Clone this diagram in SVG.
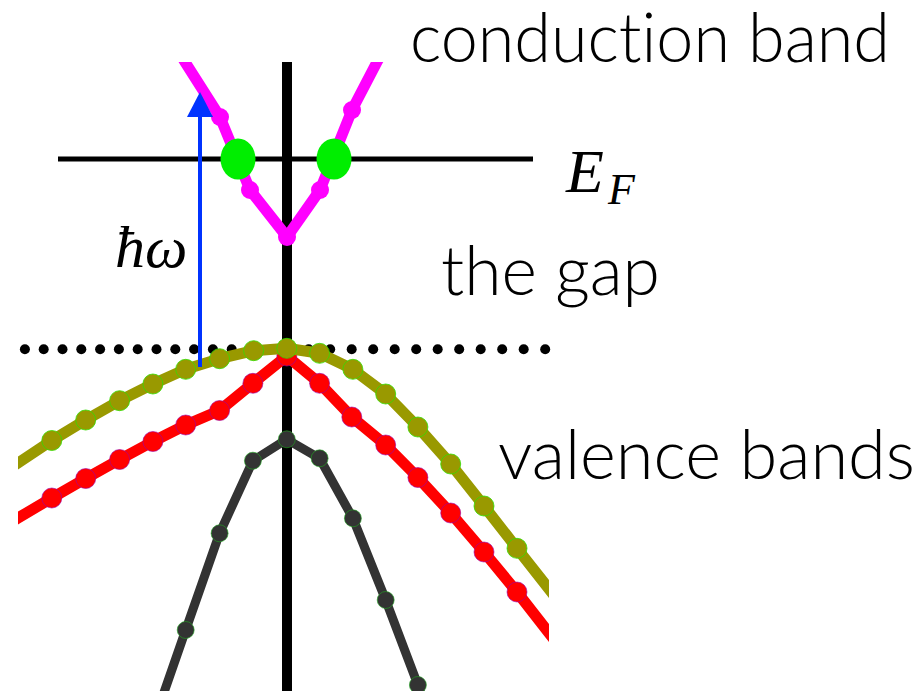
<svg xmlns="http://www.w3.org/2000/svg" width="924" height="691" viewBox="0 0 924 691">
<style>
.lbl{font-family:Lato,"Liberation Sans",Arial,sans-serif;font-weight:300;font-size:68px;fill:#000;font-variant-ligatures:none}
.math{font-family:"Liberation Serif","Times New Roman",serif;font-style:italic;font-weight:normal;fill:#000}
.band{fill:none;stroke-linejoin:round}
.olive{stroke:#999900;stroke-width:11}
.oliveDot{fill:#999900;stroke:#33dd00;stroke-width:0.8}
.red{stroke:#ff0000;stroke-width:11}
.redDot{fill:#ff0000;stroke:#9900aa;stroke-width:0.6}
.dark{stroke:#333333;stroke-width:9}
.darkDot{fill:#333333;stroke:#22aa22;stroke-width:0.6}
.mag{stroke:#ff00ff;stroke-width:11}
.magDot{fill:#ff00ff}
.dot{fill:#000}
</style>
<defs>
<clipPath id="plot"><rect x="18" y="62" width="531" height="629"/></clipPath>
</defs>
<rect width="924" height="691" fill="#fff"/>

<g id="gap-edge-dotted">
<g class="dot">
<circle cx="24.9" cy="349.3" r="5"/><circle cx="43.7" cy="349.3" r="5"/><circle cx="62.5" cy="349.3" r="5"/><circle cx="81.3" cy="349.3" r="5"/><circle cx="100.1" cy="349.3" r="5"/><circle cx="118.9" cy="349.3" r="5"/><circle cx="137.7" cy="349.3" r="5"/><circle cx="156.5" cy="349.3" r="5"/><circle cx="175.3" cy="349.3" r="5"/><circle cx="194.1" cy="349.3" r="5"/><circle cx="212.9" cy="349.3" r="5"/><circle cx="231.7" cy="349.3" r="5"/>
<circle cx="308.7" cy="349.3" r="5"/><circle cx="330.2" cy="349.3" r="5"/><circle cx="351.7" cy="349.3" r="5"/><circle cx="373.2" cy="349.3" r="5"/><circle cx="394.7" cy="349.3" r="5"/><circle cx="416.2" cy="349.3" r="5"/><circle cx="437.7" cy="349.3" r="5"/><circle cx="459.2" cy="349.3" r="5"/><circle cx="480.7" cy="349.3" r="5"/><circle cx="502.2" cy="349.3" r="5"/><circle cx="523.7" cy="349.3" r="5"/><circle cx="545.2" cy="349.3" r="5"/>
</g>
</g>

<g id="k-axis">
<line x1="287" y1="62" x2="287" y2="691" stroke="#000" stroke-width="10"/>
</g>

<g id="fermi-level">
<line x1="58" y1="159" x2="533" y2="159" stroke="#000" stroke-width="5"/>
</g>

<g id="bands" clip-path="url(#plot)">
<g id="band-dark">
<polyline class="band dark" points="152,727 185.7,630 219.6,533.3 252.9,460.7 286.8,439.3 319.6,458.3 352.9,518.3 385.7,600 417.9,685 450,775"/>
<g class="darkDot">
<circle cx="185.7" cy="630" r="8.5"/><circle cx="219.6" cy="533.3" r="8.5"/><circle cx="252.9" cy="460.7" r="8.5"/><circle cx="286.8" cy="439.3" r="8.5"/><circle cx="319.6" cy="458.3" r="8.5"/><circle cx="352.9" cy="518.3" r="8.5"/><circle cx="385.7" cy="600" r="8.5"/><circle cx="417.9" cy="685" r="8.5"/>
</g>
</g>
<g id="band-red">
<polyline class="band red" points="-15,538 18,518 51.8,498 85.7,478.5 119.6,459.5 152.9,441.5 185.7,425 219.6,410.5 252.9,383.3 286.8,356 319.6,383.3 351.8,417 385.7,445 417.9,477.5 450.7,513 484,552 517,592 549,633 580,674"/>
<g class="redDot">
<circle cx="51.8" cy="498" r="10"/><circle cx="85.7" cy="478.5" r="10"/><circle cx="119.6" cy="459.5" r="10"/><circle cx="152.9" cy="441.5" r="10"/><circle cx="185.7" cy="425" r="10"/><circle cx="219.6" cy="410.5" r="10"/><circle cx="252.9" cy="383.3" r="10"/><circle cx="286.8" cy="356" r="10"/><circle cx="319.6" cy="383.3" r="10"/><circle cx="351.8" cy="417" r="10"/><circle cx="385.7" cy="445" r="10"/><circle cx="417.9" cy="477.5" r="10"/><circle cx="450.7" cy="513" r="10"/><circle cx="484" cy="552" r="10"/><circle cx="517" cy="592" r="10"/>
</g>
</g>
<g id="band-olive">
<polyline class="band olive" points="-15,485 18,463 51.8,440.5 85.7,420 119.6,400.7 152.9,384 185.7,369.3 219.6,358.7 253.6,350.7 286.8,348.3 319.6,353.3 352.9,369.3 385.7,394 417.9,427 450.7,464 484,506 517,548.3 549,589 580,630"/>
<g class="oliveDot">
<circle cx="51.8" cy="440.5" r="10"/><circle cx="85.7" cy="420" r="10"/><circle cx="119.6" cy="400.7" r="10"/><circle cx="152.9" cy="384" r="10"/><circle cx="185.7" cy="369.3" r="10"/><circle cx="219.6" cy="358.7" r="10"/><circle cx="253.6" cy="350.7" r="10"/><circle cx="286.8" cy="348.3" r="10"/><circle cx="319.6" cy="353.3" r="10"/><circle cx="352.9" cy="369.3" r="10"/><circle cx="385.7" cy="394" r="10"/><circle cx="417.9" cy="427" r="10"/><circle cx="450.7" cy="464" r="10"/><circle cx="484" cy="506" r="10"/><circle cx="517" cy="548.3" r="10"/>
</g>
</g>
<g id="band-conduction">
<polyline class="band mag" points="170,38 185,62 220,117 250,190 287,237 320,190 352,110 377,62 390,38"/>
<g class="magDot">
<circle cx="220" cy="117" r="9"/><circle cx="250" cy="190" r="9"/><circle cx="287" cy="237" r="9"/><circle cx="320" cy="190" r="9"/><circle cx="352" cy="110" r="9"/>
</g>
</g>
</g>

<g id="fermi-points">
<ellipse cx="238" cy="159" rx="17.5" ry="20.5" fill="#00ee00"/>
<ellipse cx="334" cy="159" rx="17.5" ry="20.5" fill="#00ee00"/>
</g>

<g id="connectors">
<line x1="200" y1="367" x2="200" y2="112" stroke="#0033ff" stroke-width="4"/>
<polygon points="200,92 213,117 187,117" fill="#0033ff"/>
</g>

<g id="labels">
<text class="lbl" x="410" y="62" textLength="480" lengthAdjust="spacingAndGlyphs">conduction band</text>
<text class="lbl" x="441" y="295" textLength="219" lengthAdjust="spacingAndGlyphs">the gap</text>
<text class="lbl" x="498" y="479" textLength="417" lengthAdjust="spacingAndGlyphs">valence bands</text>
<text class="math" x="566" y="192" font-size="62">E</text>
<text class="math" x="608" y="204" font-size="44">F</text>
<text class="math" x="115" y="267" font-size="60">ħω</text>
</g>
</svg>
